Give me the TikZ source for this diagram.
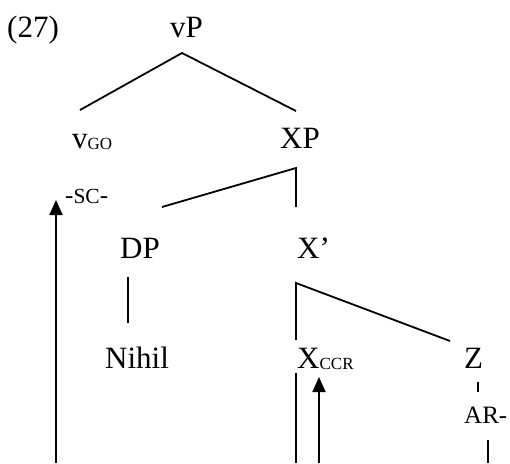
\documentclass[tikz,border=0pt]{standalone}
\usepackage{fontspec}
\setmainfont{Liberation Serif}
\usetikzlibrary{arrows.meta}
\begin{document}
\begin{tikzpicture}[x=1pt,y=-1pt,
  lbl/.style={anchor=base west,inner sep=0pt,font=\fontsize{31}{36}\selectfont},
  sml/.style={anchor=base west,inner sep=0pt,font=\fontsize{25}{28}\selectfont},
  edge/.style={line width=1.8pt},
  mv/.style={line width=1.8pt,-{Triangle[width=13pt,length=15pt]}}]
\newcommand{\subsc}[1]{\raisebox{-1.5pt}{\fontsize{17}{19}\selectfont #1}}
\useasboundingbox (0,0) rectangle (510,463);
% labels
\node[lbl] (ex) at (7,37) {(27)};
\node[lbl] (vP) at (170,37) {vP};
\node[lbl] (vGO) at (72,148) {v\subsc{GO}};
\node[lbl] (XP) at (280,148) {XP};
\node[sml] (sc) at (65,203) {-{\fontsize{21.5}{24}\selectfont SC}-};
\node[lbl] (DP) at (120,258) {DP};
\node[lbl] (Xb) at (297,258) {X’};
\node[lbl] (Nihil) at (105,368) {Nihil};
\node[lbl] (Xccr) at (297,368) {X\subsc{CCR}};
\node[lbl] (Z) at (464,368) {Z};
\node[sml] (AR) at (464,423) {AR-};
% coordinates
\coordinate (vPb) at (182,53);
\coordinate (vGOt) at (80,110);
\coordinate (XPt) at (296,111);
\coordinate (XPb) at (296,168);
\coordinate (DPt) at (162,207);
\coordinate (Xbt) at (296,207);
\coordinate (DPb) at (128,277);
\coordinate (Nt) at (128,323);
\coordinate (Xbb) at (296,283);
\coordinate (Xct) at (296,340);
\coordinate (Zt) at (450,341);
\coordinate (Zb) at (478,382);
\coordinate (ARt) at (478,392);
\coordinate (ARb) at (488,440);
\coordinate (ARe) at (488,463);
\coordinate (Xcb) at (296,373);
\coordinate (Xce) at (296,463);
\coordinate (Xas) at (319,463);
\coordinate (Xat) at (319,377);
\coordinate (sca) at (56,463);
\coordinate (sct) at (56,200);
% tree edges
\draw[edge] (vGOt) -- (vPb) -- (XPt);
\draw[edge] (DPt) -- (XPb) -- (Xbt);
\draw[edge] (DPb) -- (Nt);
\draw[edge] (Xct) -- (Xbb) -- (Zt);
\draw[edge] (Zb) -- (ARt);
\draw[edge] (ARb) -- (ARe);
\draw[edge] (Xcb) -- (Xce);
% movement arrows
\draw[mv] (Xas) -- (Xat);
\draw[mv] (sca) -- (sct);
\end{tikzpicture}
\end{document}
